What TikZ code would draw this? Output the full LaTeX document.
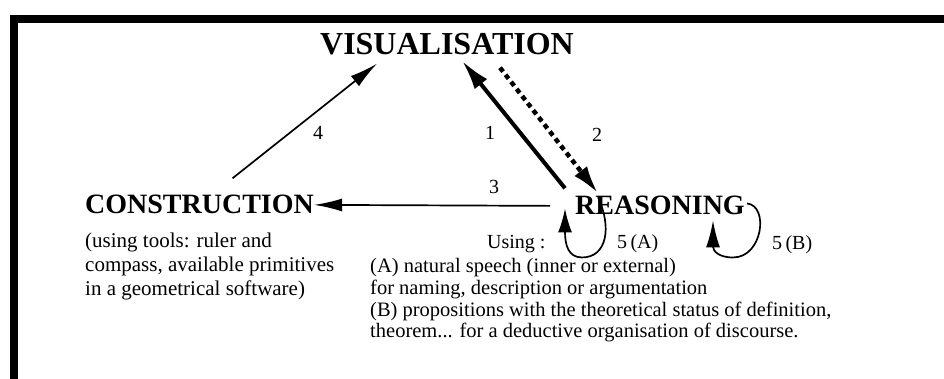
\documentclass[tikz,border=0pt]{standalone}
\usepackage{fontspec}
\setmainfont{Liberation Serif}
\usetikzlibrary{arrows.meta,positioning}

\tikzset{
  stage/.style={inner sep=0pt, font=\fontsize{28}{28}\selectfont\bfseries},
  note/.style={inner sep=0pt, align=left, font=\fontsize{21}{24}\selectfont},
  num/.style={inner sep=0pt, font=\fontsize{20}{20}\selectfont},
  thinarr/.style={line width=1.7pt, -{Latex[length=28pt,width=13pt]}},
  boldarr/.style={line width=4pt, -{Latex[length=30pt,width=16pt]}},
  dotarr/.style={line width=4.5pt, dash pattern=on 5pt off 4pt, -{Latex[length=28pt,width=16pt]}},
}

\begin{document}
\begin{tikzpicture}[x=1pt, y=1pt]
  \useasboundingbox (0,0) rectangle (944,-379);
  % frame
  \draw[line width=8pt, miter limit=10] (14,-379) -- (14,-19) -- (950,-19);

  \node[stage, font=\fontsize{32}{32}\selectfont\bfseries, anchor=base] (vis) at (447,-55) {VISUALISATION};
  \node[stage, anchor=base west] (con) at (85,-214) {CONSTRUCTION};
  \node[stage, anchor=base west] (rea) at (575,-215) {REASONING};

  \node[note, below=18pt of con.south west, anchor=north west] (condesc)
    {(using tools: ruler and\\compass, available primitives\\in a geometrical software)};
  \node[note, font=\fontsize{20.5}{21.8}\selectfont, anchor=north west] (readesc) at (370,-258)
    {(A) natural speech (inner or external)\\for naming, description or argumentation\\(B) propositions with the theoretical status of definition,\\theorem... for a deductive organisation of discourse.};

  \node[num, anchor=base west] (using) at (487,-248) {Using :};
  \node[num, anchor=base west] (fiveA) at (617,-248) {5\,(A)};
  \node[num, anchor=base west] (fiveB) at (772,-250) {5\,(B)};

  \node[num] (one) at (490,-133) {1};
  \node[num] (two) at (597,-135) {2};
  \node[num] (three) at (494,-187) {3};
  \node[num] (four) at (318,-133) {4};

  % loop ends
  \coordinate (a1) at ([shift={(23,-1)}]rea.north west);
  \coordinate (abot) at ([shift={(7,-42)}]rea.south west);
  \coordinate (atip) at ([shift={(-10,7)}]rea.south west);
  \coordinate (b1) at ([shift={(172,12)}]rea.south west);
  \coordinate (bbot) at ([shift={(158,-42)}]rea.south west);
  \coordinate (btip) at ([shift={(138,-5)}]rea.south west);

  \draw[boldarr] ([shift={(-10,8)}]rea.north west) -- ([shift={(15,-5)}]vis.south);
  \draw[dotarr] ([shift={(53,-12)}]vis.south) -- ([shift={(23,3)}]rea.north west);
  \draw[thinarr] ([xshift=-25pt]rea.west) -- (con.east);
  \draw[thinarr] ([shift={(33,17)}]con.north) -- ([shift={(57,-8)}]vis.south west);
  \draw[thinarr, -{Latex[length=24pt,width=14pt]}] (a1) .. controls +(14,-30) and +(25,0) .. (abot)
    .. controls +(-14,0) and +(0,-36) .. (atip);
  \draw[thinarr, -{Latex[length=27pt,width=14pt]}] (b1) .. controls +(22,-2) and +(30,0) .. (bbot)
    .. controls +(-15,0) and +(0,-30) .. (btip);
\end{tikzpicture}
\end{document}
